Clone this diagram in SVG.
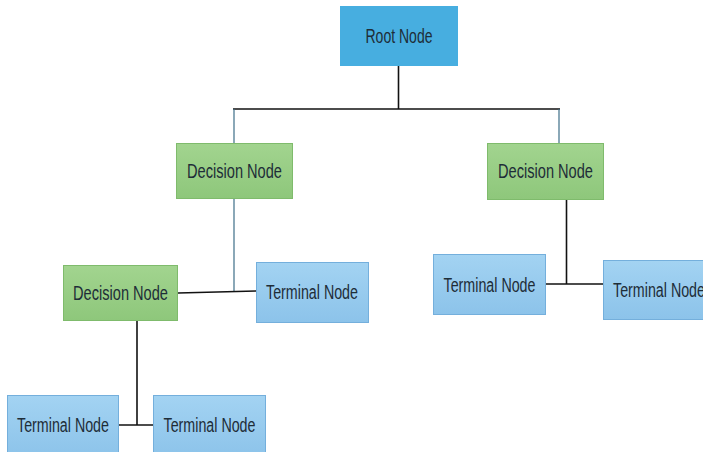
<svg xmlns="http://www.w3.org/2000/svg" width="703" height="452" viewBox="0 0 703 452">
<defs>
<linearGradient id="gT" x1="0" y1="0" x2="0" y2="1"><stop offset="0" stop-color="#a3d3f2"/><stop offset="1" stop-color="#8cc3ea"/></linearGradient>
<linearGradient id="gD" x1="0" y1="0" x2="0" y2="1"><stop offset="0" stop-color="#a2d48f"/><stop offset="1" stop-color="#8ec77b"/></linearGradient>
<style>
.t{font-family:"Liberation Sans",Arial,sans-serif;font-size:19.5px;fill:#1e2d38;text-anchor:middle;dominant-baseline:central}
.root{fill:#47aee0}
.term{fill:url(#gT);stroke:#74afdc;stroke-width:1}
.dec{fill:url(#gD);stroke:#7fbb6c;stroke-width:1}
.k{stroke:#111;stroke-width:1.6;fill:none}
.b{stroke:#3d6e88;stroke-width:1.2;fill:none}
</style>
</defs>
<rect width="703" height="452" fill="#fff"/>
<g id="connectors">
<line class="k" x1="398.5" y1="66" x2="398.5" y2="109"/>
<line class="k" x1="233" y1="109" x2="560" y2="109"/>
<line class="b" x1="234" y1="109" x2="234" y2="143"/>
<line class="b" x1="559" y1="109" x2="559" y2="143"/>
<line class="b" x1="234" y1="199" x2="234" y2="292"/>
<line class="k" x1="178" y1="293" x2="256" y2="291"/>
<line class="k" x1="566.5" y1="200" x2="566.5" y2="284"/>
<line class="k" x1="546" y1="284" x2="603" y2="284"/>
<line class="k" x1="137" y1="320" x2="137" y2="425"/>
<line class="k" x1="118" y1="425" x2="153" y2="425"/>
</g>
<g id="root">
<rect class="root" x="340" y="6" width="118" height="60"/>
<text class="t" x="399" y="36" textLength="67" lengthAdjust="spacingAndGlyphs">Root Node</text>
</g>
<g id="decision-left">
<rect class="dec" x="176.5" y="143.5" width="116" height="55"/>
<text class="t" x="234.5" y="171" textLength="95" lengthAdjust="spacingAndGlyphs">Decision Node</text>
</g>
<g id="decision-right">
<rect class="dec" x="487.5" y="143.5" width="116" height="56"/>
<text class="t" x="545.5" y="171" textLength="95" lengthAdjust="spacingAndGlyphs">Decision Node</text>
</g>
<g id="decision-lower">
<rect class="dec" x="63.5" y="265.5" width="114" height="55"/>
<text class="t" x="120.5" y="293" textLength="95" lengthAdjust="spacingAndGlyphs">Decision Node</text>
</g>
<g id="terminal-mid">
<rect class="term" x="256.5" y="262.5" width="112" height="60"/>
<text class="t" x="312" y="292" textLength="92" lengthAdjust="spacingAndGlyphs">Terminal Node</text>
</g>
<g id="terminal-right-a">
<rect class="term" x="433.5" y="254.5" width="112" height="60"/>
<text class="t" x="489.5" y="284.5" textLength="92" lengthAdjust="spacingAndGlyphs">Terminal Node</text>
</g>
<g id="terminal-right-b">
<rect class="term" x="603.5" y="260.5" width="113" height="59"/>
<text class="t" x="659" y="290" textLength="92" lengthAdjust="spacingAndGlyphs">Terminal Node</text>
</g>
<g id="terminal-bottom-a">
<rect class="term" x="7.5" y="395.5" width="111" height="62"/>
<text class="t" x="63" y="425" textLength="92" lengthAdjust="spacingAndGlyphs">Terminal Node</text>
</g>
<g id="terminal-bottom-b">
<rect class="term" x="153.5" y="395.5" width="112" height="62"/>
<text class="t" x="209.5" y="425" textLength="92" lengthAdjust="spacingAndGlyphs">Terminal Node</text>
</g>
</svg>
